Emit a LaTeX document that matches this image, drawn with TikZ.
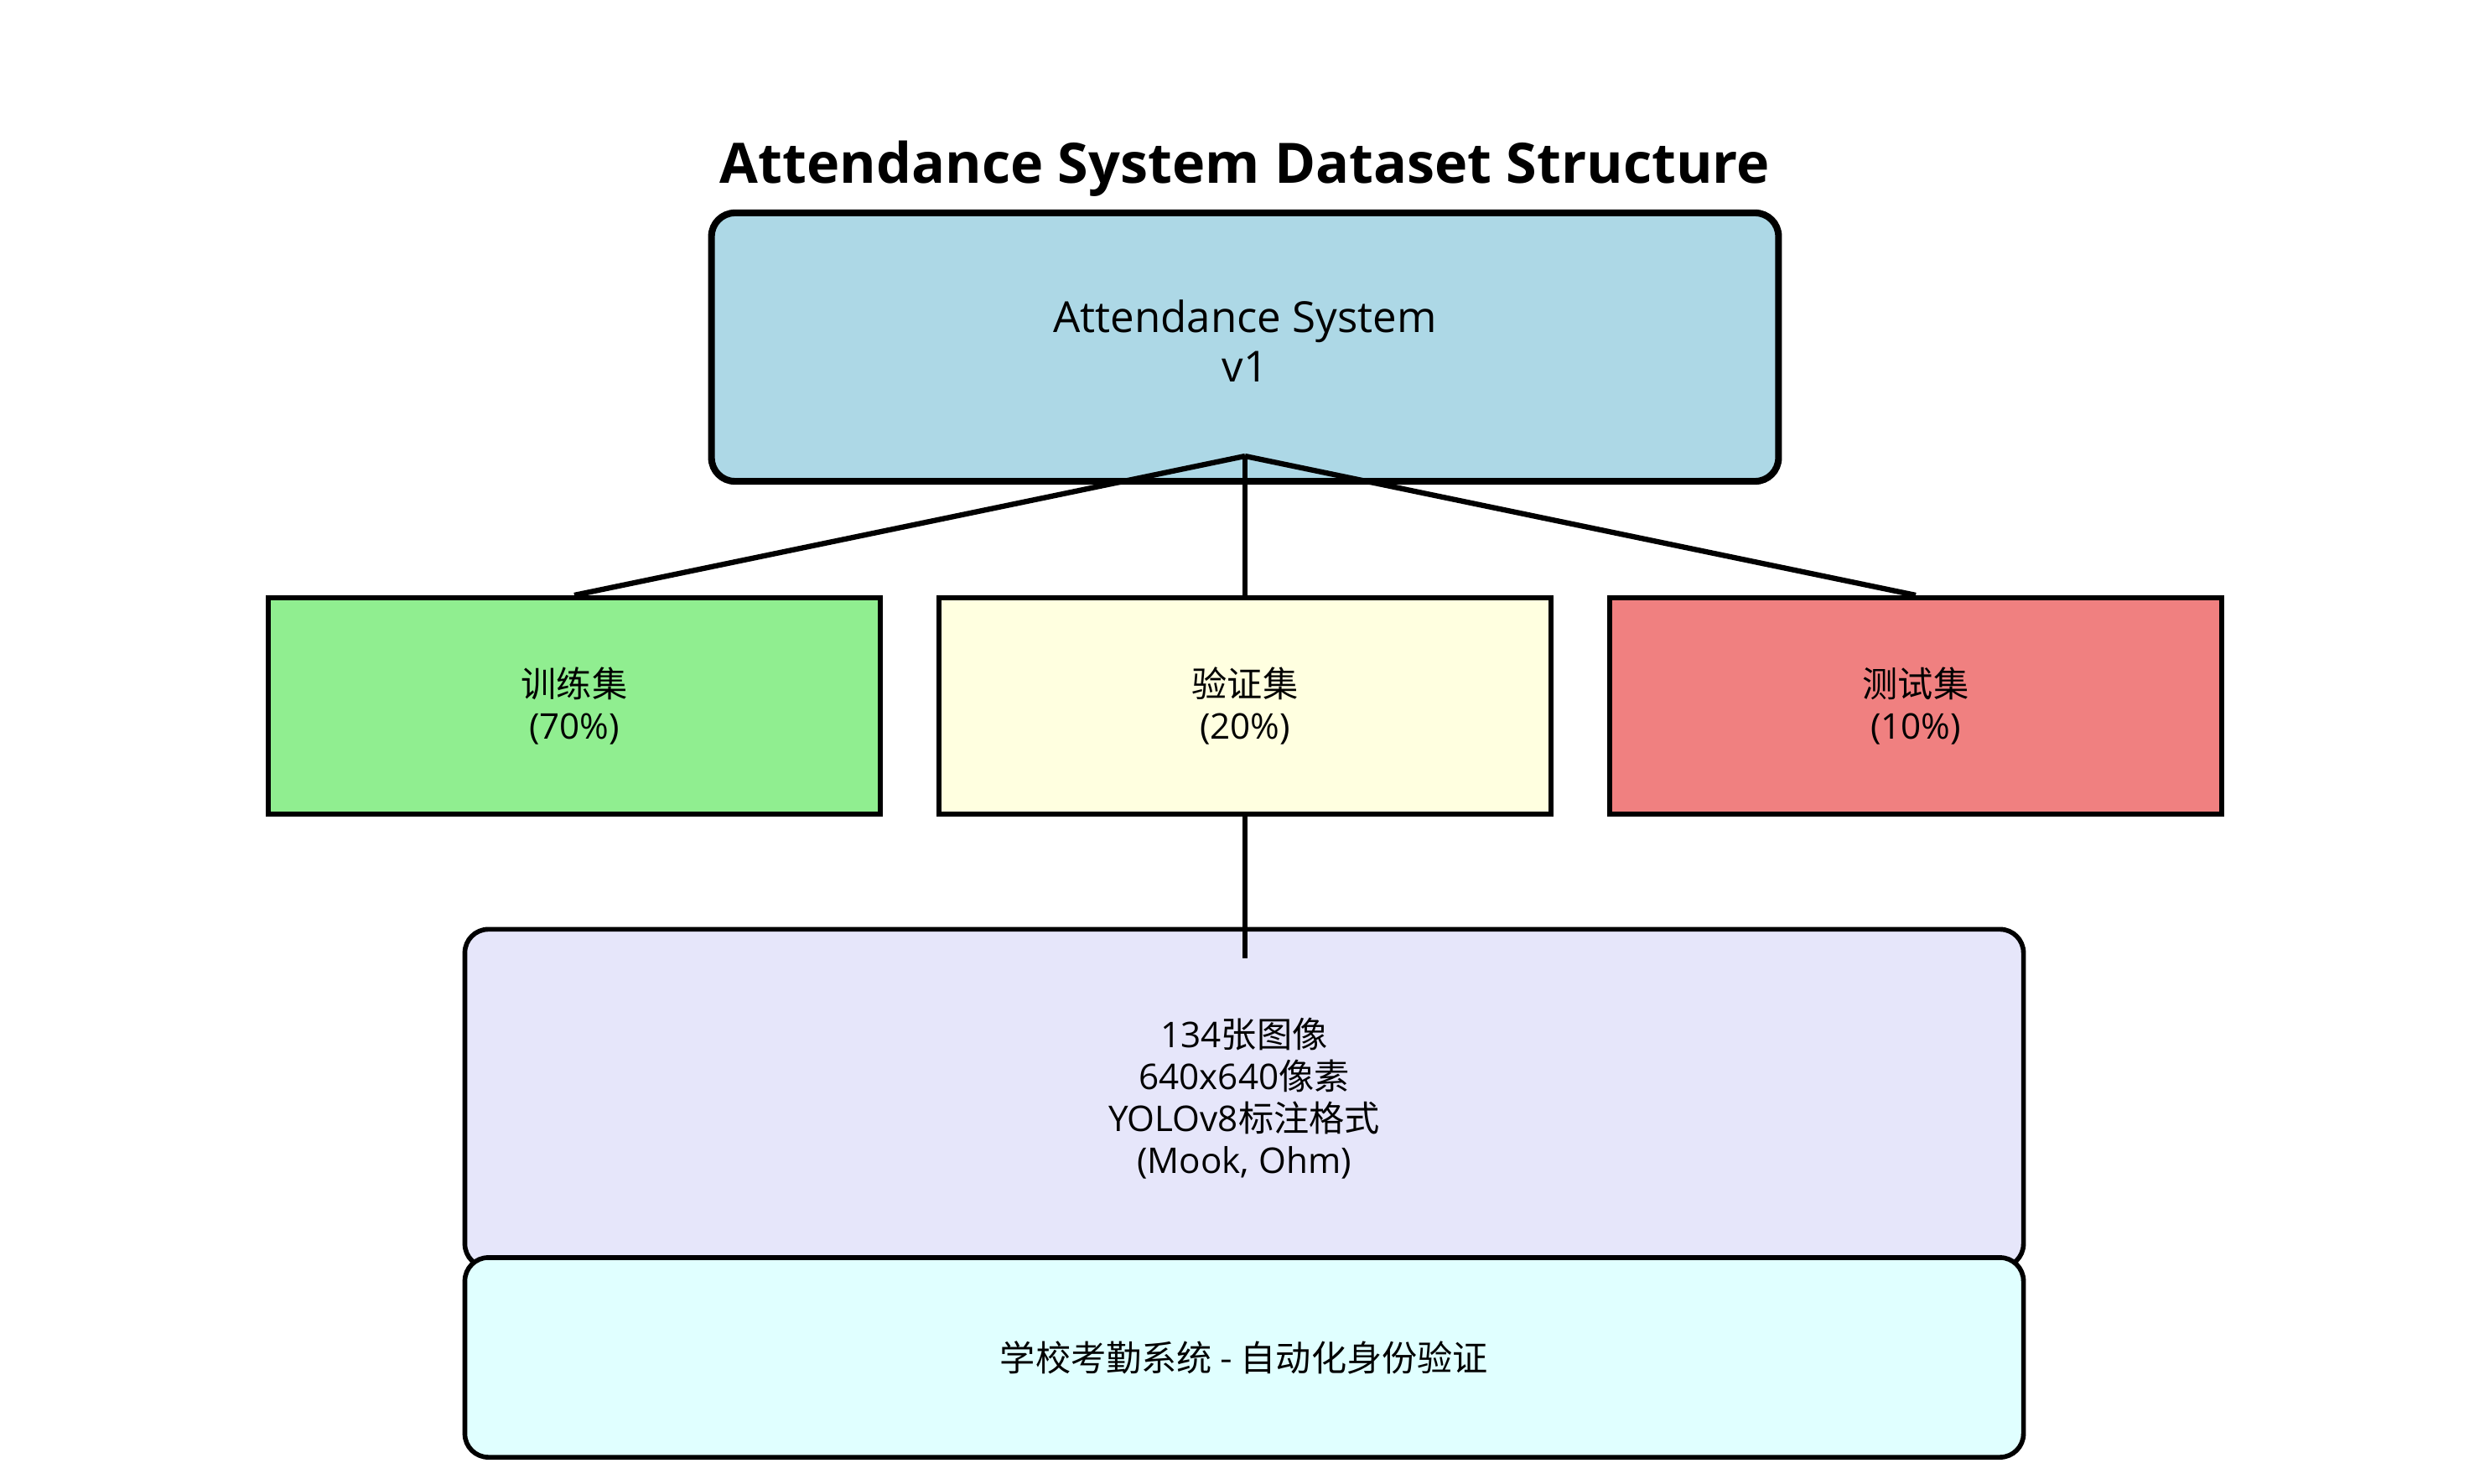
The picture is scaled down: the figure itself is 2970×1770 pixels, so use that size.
\documentclass[tikz,border=0pt]{standalone}
\usepackage{fontspec}
\setmainfont{Open Sans}
\newfontfamily\cjk{Noto Sans CJK SC}
\definecolor{lblue}{HTML}{ADD8E6}
\definecolor{lgreen}{HTML}{90EE90}
\definecolor{lyellow}{HTML}{FFFFE0}
\definecolor{lcoral}{HTML}{F08080}
\definecolor{lavend}{HTML}{E6E6FA}
\definecolor{lcyan}{HTML}{E0FFFF}
\begin{document}
\begin{tikzpicture}[x=0.01cm,y=-0.01cm,
  titlestyle/.style={font=\fontsize{18.9}{22}\selectfont\bfseries, inner sep=0},
  topbox/.style={draw, line width=2.3pt, rounded corners=2.8mm, fill=lblue,
    minimum width=12.72cm, minimum height=3.2cm, align=center, inner sep=0,
    font=\fontsize{14.5}{17}\selectfont},
  splitbox/.style={draw, line width=1.7pt, minimum width=7.3cm, minimum height=2.58cm,
    align=center, inner sep=0, font=\fontsize{12}{14}\selectfont},
  infobox/.style={draw, line width=1.6pt, rounded corners=2.8mm, minimum width=18.58cm,
    align=center, inner sep=0, font=\fontsize{12}{14.2}\selectfont},
  link/.style={line width=1.8pt}]
\useasboundingbox (0,0) rectangle (2970,1770);
\node[titlestyle] (title) at (1485,201) {Attendance System Dataset Structure};
\node[topbox] (root) at (1485,414) {\raisebox{1.2mm}{\begin{tabular}{@{}c@{}}Attendance System\\v1\end{tabular}}};
\node[splitbox, fill=lgreen] (train) at (685,842) {{\cjk 训练集}\\(70\%)};
\node[splitbox, fill=lyellow] (val) at (1485,842) {{\cjk 验证集}\\(20\%)};
\node[splitbox, fill=lcoral] (test) at (2285,842) {{\cjk 测试集}\\(10\%)};
\node[infobox, fill=lavend, minimum height=4.03cm] (info) at (1484,1310)
  {134{\cjk 张图像}\\640x640{\cjk 像素}\\YOLOv8{\cjk 标注格式}\\(Mook, Ohm)};
\node[infobox, fill=lcyan, minimum height=2.38cm] (usage) at (1484,1619)
  {{\cjk 学校考勤系统 - 自动化身份验证}};
\coordinate (hub) at (1485,544);
\coordinate (valend) at (1485,1143);
\draw[link] (hub) -- (train.north);
\draw[link] (hub) -- (val.north);
\draw[link] (hub) -- (test.north);
\draw[link] (val.south) -- (valend);
\end{tikzpicture}
\end{document}
